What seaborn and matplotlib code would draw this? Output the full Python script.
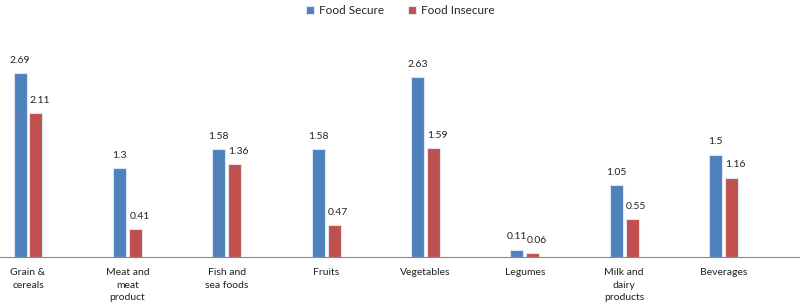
import pandas as pd
import matplotlib
matplotlib.use('Agg')
import matplotlib.pyplot as plt
import seaborn as sns

# ===== 数据 =====
categories = ['Grain &\ncereals', 'Meat and\nmeat\nproduct', 'Fish and\nsea foods', 'Fruits',
              'Vegetables', 'Legumes', 'Milk and\ndairy\nproducts', 'Beverages']
food_secure = [2.69, 1.3, 1.58, 1.58, 2.63, 0.11, 1.05, 1.5]
food_insecure = [2.11, 0.41, 1.36, 0.47, 1.59, 0.06, 0.55, 1.16]
series = ['Food Secure', 'Food Insecure']

df = pd.DataFrame({
    'category': categories * 2,
    'value': food_secure + food_insecure,
    'group': [series[0]] * len(categories) + [series[1]] * len(categories),
})

sns.set_style('white')
plt.rcParams['font.family'] = ['Lato', 'DejaVu Sans']

fig = plt.figure(figsize=(8, 3.06), dpi=100)
ax = fig.add_axes([0, 0.160, 1, 0.7255])

sns.barplot(data=df, x='category', y='value', hue='group', order=categories,
            hue_order=series, palette=['#4F81BD', '#C0504D'], saturation=1,
            width=0.32, gap=0.18, edgecolor='#dde6f2', linewidth=0.8,
            errorbar=None, ax=ax)

# 数值标签（略微右移，和原图一致）
for cont, vals, dx in zip(ax.containers, [food_secure, food_insecure], [0, 3]):
    for bar, v in zip(cont, vals):
        ax.annotate(f'{v:g}', (bar.get_x() + bar.get_width() / 2, bar.get_height()),
                    xytext=(dx, 6), textcoords='offset points', ha='center', va='bottom',
                    fontsize=7.5, color='#222222')

ax.set_xlim(-0.282, 7.77)
ax.set_ylim(0, 3.25)
ax.set_xlabel('')
ax.set_ylabel('')
ax.set_yticks([])
ax.tick_params(axis='x', length=0, pad=8, labelsize=7.5, colors='#222222')
for lab in ax.get_xticklabels():
    lab.set_linespacing(1.5)
for s in ['top', 'left', 'right']:
    ax.spines[s].set_visible(False)
ax.spines['bottom'].set_color('#888888')
ax.spines['bottom'].set_linewidth(0.8)

ax.legend(loc='center', bbox_to_anchor=(0.5, 1.11), ncol=2, frameon=False,
          fontsize=8.5, handlelength=0.7, handleheight=0.7, handletextpad=0.4,
          columnspacing=2.0, borderaxespad=0)

plt.savefig('out.png', dpi=100)
